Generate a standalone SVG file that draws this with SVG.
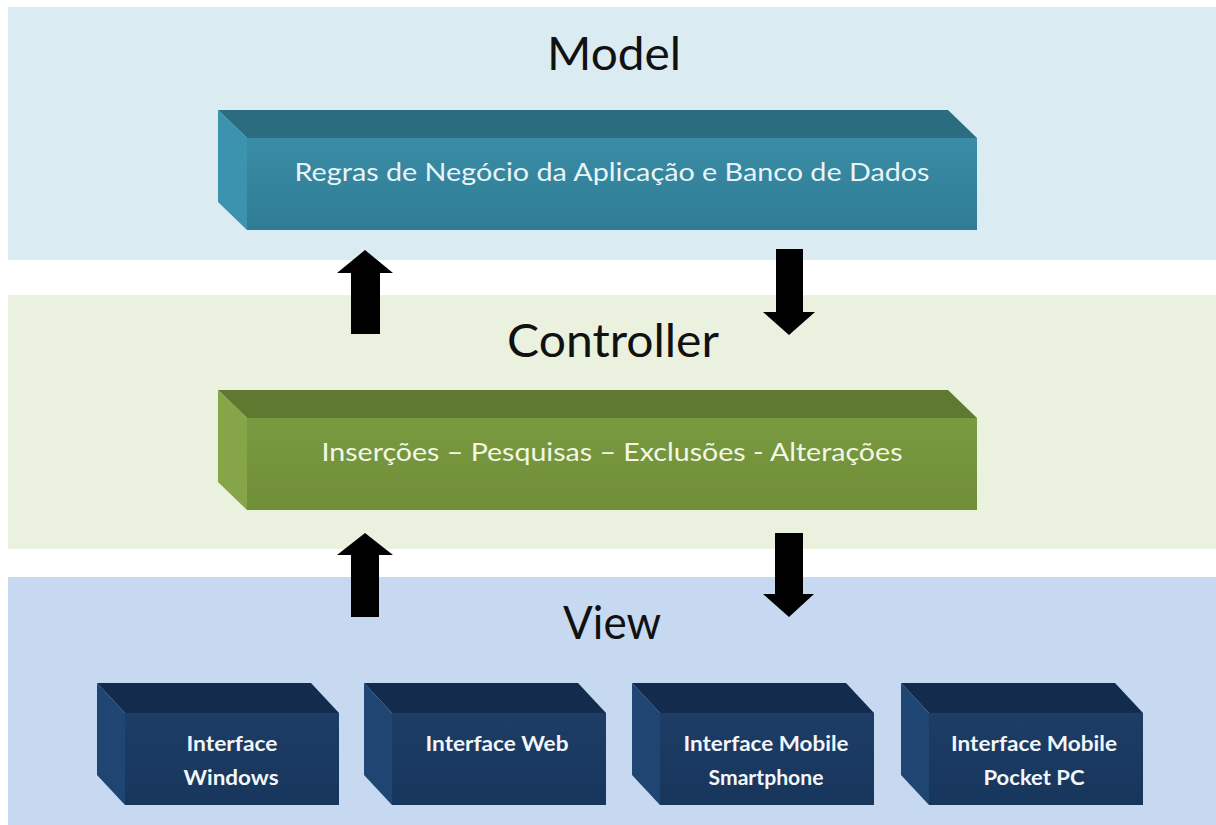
<svg xmlns="http://www.w3.org/2000/svg" width="1216" height="825" viewBox="0 0 1216 825">
<defs>
<linearGradient id="gModel" x1="0" y1="0" x2="0" y2="1"><stop offset="0" stop-color="#3A8CA6"/><stop offset="1" stop-color="#2F7C94"/></linearGradient>
<linearGradient id="gCtrl" x1="0" y1="0" x2="0" y2="1"><stop offset="0" stop-color="#7A9A40"/><stop offset="1" stop-color="#6F8E38"/></linearGradient>
<linearGradient id="gView" x1="0" y1="0" x2="0" y2="1"><stop offset="0" stop-color="#1D3D66"/><stop offset="1" stop-color="#18365C"/></linearGradient>
<style>
.title{font-family:Lato,"Open Sans","Liberation Sans",sans-serif;font-size:46px;fill:#111;text-anchor:middle}
.lbl{font-family:Lato,"Open Sans","Liberation Sans",sans-serif;font-size:25px;text-anchor:middle}
.vlbl{font-family:Lato,"Open Sans","Liberation Sans",sans-serif;font-size:21px;font-weight:bold;fill:#F2F6FA;text-anchor:middle}
.arrow{fill:#000}
</style>
</defs>
<rect width="1216" height="825" fill="#FFFFFF"/>
<g id="bands">
<rect x="8" y="7" width="1208" height="253" fill="#DAEBF2"/>
<rect x="8" y="295" width="1208" height="254" fill="#EAF1DE"/>
<rect x="8" y="577" width="1208" height="248" fill="#C6D9F0"/>
</g>
<g id="titles">
<text class="title" x="614" y="70" textLength="134" lengthAdjust="spacingAndGlyphs">Model</text>
<text class="title" x="613" y="357" textLength="212" lengthAdjust="spacingAndGlyphs">Controller</text>
<text class="title" x="612" y="639" textLength="98" lengthAdjust="spacingAndGlyphs">View</text>
</g>
<g id="model">
<polygon points="218,110 948,110 977,138 247,138" fill="#2C6C80"/>
<polygon points="218,110 247,138 247,230 218,202" fill="#3B93AE"/>
<rect x="247" y="138" width="730" height="92" fill="url(#gModel)"/>
<text class="lbl" x="612" y="181" fill="#E8F5F8" textLength="635" lengthAdjust="spacingAndGlyphs">Regras de Negócio da Aplicação e Banco de Dados</text>
</g>
<g id="controller">
<polygon points="218,390 948,390 977,418 247,418" fill="#5F7A30"/>
<polygon points="218,390 247,418 247,510 218,482" fill="#86A548"/>
<rect x="247" y="418" width="730" height="92" fill="url(#gCtrl)"/>
<text class="lbl" x="612" y="461" fill="#F3F7E6" textLength="581" lengthAdjust="spacingAndGlyphs">Inserções – Pesquisas – Exclusões - Alterações</text>
</g>
<g id="view-windows">
<polygon points="97,683 311,683 339,713 125,713" fill="#132B4D"/>
<polygon points="97,683 125,713 125,805 97,775" fill="#1F4573"/>
<rect x="125" y="713" width="214" height="92" fill="url(#gView)"/>
<text class="vlbl" x="232" y="751" textLength="91" lengthAdjust="spacingAndGlyphs">Interface</text>
<text class="vlbl" x="231" y="785" textLength="95" lengthAdjust="spacingAndGlyphs">Windows</text>
</g>
<g id="view-web">
<polygon points="364,683 578,683 606,713 392,713" fill="#132B4D"/>
<polygon points="364,683 392,713 392,805 364,775" fill="#1F4573"/>
<rect x="392" y="713" width="214" height="92" fill="url(#gView)"/>
<text class="vlbl" x="497" y="751" textLength="143" lengthAdjust="spacingAndGlyphs">Interface Web</text>
</g>
<g id="view-smartphone">
<polygon points="632,683 846,683 874,713 660,713" fill="#132B4D"/>
<polygon points="632,683 660,713 660,805 632,775" fill="#1F4573"/>
<rect x="660" y="713" width="214" height="92" fill="url(#gView)"/>
<text class="vlbl" x="766" y="751" textLength="165" lengthAdjust="spacingAndGlyphs">Interface Mobile</text>
<text class="vlbl" x="766" y="785" textLength="115" lengthAdjust="spacingAndGlyphs">Smartphone</text>
</g>
<g id="view-pocketpc">
<polygon points="901,683 1115,683 1143,713 929,713" fill="#132B4D"/>
<polygon points="901,683 929,713 929,805 901,775" fill="#1F4573"/>
<rect x="929" y="713" width="214" height="92" fill="url(#gView)"/>
<text class="vlbl" x="1034" y="751" textLength="166" lengthAdjust="spacingAndGlyphs">Interface Mobile</text>
<text class="vlbl" x="1034" y="785" textLength="101" lengthAdjust="spacingAndGlyphs">Pocket PC</text>
</g>
<g id="connectors">
<polygon class="arrow" points="365,250 393,273 380,273 380,334 351,334 351,273 337,273"/>
<polygon class="arrow" points="776,249 803,249 803,312 815,312 789,335 763,312 776,312"/>
<polygon class="arrow" points="365,533 393,555 379,555 379,617 351,617 351,555 337,555"/>
<polygon class="arrow" points="775,533 803,533 803,594 814,594 789,617 763,594 775,594"/>
</g>
</svg>
